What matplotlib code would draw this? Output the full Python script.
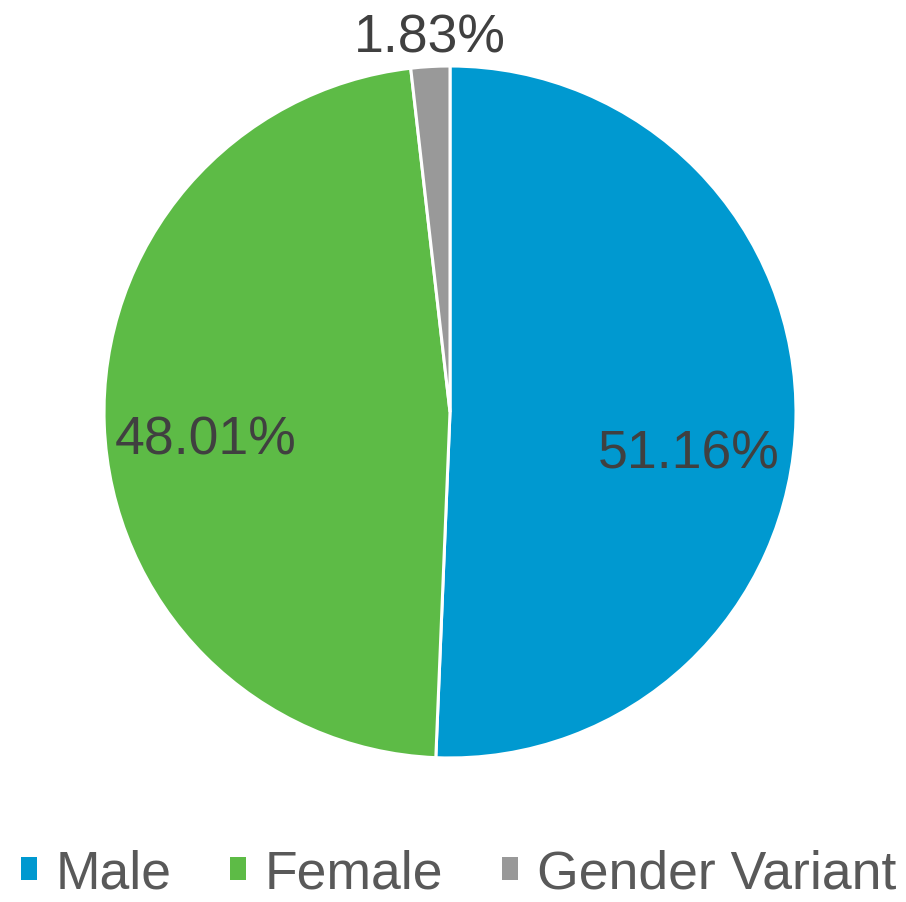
import numpy as np
import matplotlib.pyplot as plt
from matplotlib.patches import Patch

categories = ['Male', 'Female', 'Gender Variant']
shares = [51.16, 48.01, 1.83]
colors = ['#0099D0', '#5DBB46', '#999999']

# label placement: (distance from centre, extra angle in degrees)
label_place = [(0.70, -8.7), (0.71, 4.3), (1.085, -0.2)]

plt.rcParams['font.family'] = ['Liberation Sans', 'DejaVu Sans']

fig = plt.figure(figsize=(9.06, 9.03), dpi=100)
ax = fig.add_axes([0.1148, 0.1595, 0.7638, 0.7663])

wedges, _ = ax.pie(shares, colors=colors, startangle=90, counterclock=False,
                   wedgeprops=dict(edgecolor='white', linewidth=2.2))
ax.set_xlim(-1, 1)
ax.set_ylim(-1, 1)
ax.set_aspect('equal')

for w, v, (dist, dang) in zip(wedges, shares, label_place):
    ang = np.deg2rad((w.theta1 + w.theta2) / 2 + dang)
    ax.text(dist * np.cos(ang), dist * np.sin(ang), f'{v:.2f}%',
            ha='center', va='center', fontsize=38.5, color='#404040', clip_on=False)

handles = [Patch(facecolor=c, edgecolor='none') for c in colors]
fig.legend(handles, categories, loc='lower center', bbox_to_anchor=(0.506, -0.032),
           ncol=3, frameon=False, fontsize=38.5, labelcolor='#595959',
           handlelength=0.3, handleheight=0.3, handletextpad=0.35, columnspacing=1.1,
           borderpad=0.1)

fig.savefig('out.png', dpi=100)
